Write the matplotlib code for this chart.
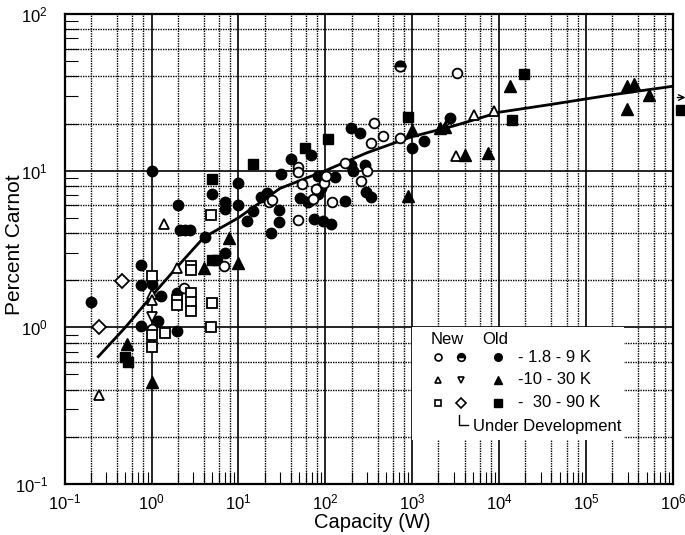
import numpy as np
import matplotlib
matplotlib.use('Agg')
import matplotlib.pyplot as plt
from matplotlib.ticker import LogLocator, NullFormatter
from matplotlib.patches import Rectangle

plt.rcParams['font.family'] = ['Liberation Sans', 'DejaVu Sans']
plt.rcParams['mathtext.default'] = 'regular'

# trend curve through the survey data
trend_x = [0.244, 0.5, 1.0, 2.0, 4.0, 10, 30, 100, 300, 1000, 3000, 10000, 40000, 200000, 1e6]
trend_y = [0.65, 1.0, 1.58, 2.45, 3.75, 5.0, 7.7, 10.0, 13.0, 16.5, 19.3, 23.6, 26.5, 30.5, 34.6]

# old machines, 1.8 - 9 K
old_lo_x = [0.2, 0.75, 0.75, 0.75, 1.0, 1.0, 1.2, 1.3, 1.95, 1.95, 2.0, 2.1, 2.4, 2.75, 4.1,
            5.0, 7.0, 7.0, 7.0, 10, 10, 12.4, 14.8, 18, 21.5, 23.5, 29, 29, 31, 40, 51, 63,
            69, 75, 82, 88, 82, 95, 117, 128, 170, 199, 199, 208, 250, 283, 296, 338, 1000,
            1380, 2690]
old_lo_y = [1.45, 2.5, 1.85, 1.02, 1.9, 10.0, 1.1, 1.58, 1.65, 0.95, 6.0, 4.2, 4.2, 4.2, 3.8,
            7.1, 6.3, 5.7, 3.0, 8.3, 6.0, 4.8, 5.5, 6.8, 7.2, 4.0, 5.6, 4.7, 9.5, 11.8, 6.7, 6.3,
            12.5, 4.95, 7.1, 7.7, 9.2, 4.75, 4.6, 9.1, 6.4, 18.6, 10.8, 9.9, 17.3, 10.9, 7.3, 6.8,
            14.0, 15.4, 21.6]

# old machines, 10 - 30 K
old_mid_x = [0.52, 1.0, 4.0, 7.8, 10, 891, 1000, 2100, 2400, 4000, 7400, 13400,
             296000, 353000, 533000, 296000]
old_mid_y = [0.78, 0.45, 2.38, 3.7, 2.57, 6.9, 18.3, 18.6, 19.0, 12.6, 13.0, 34.9,
             34.6, 35.5, 30.6, 24.8]

# old machines, 30 - 90 K
old_hi_x = [0.5, 0.53, 5.0, 5.0, 5.6, 14.8, 58, 107, 891, 14100, 19200]
old_hi_y = [0.65, 0.6, 8.9, 2.7, 2.7, 11.1, 14.0, 16.0, 22.1, 21.1, 41.2]
# one large machine beyond the axis range
off_x = [1.25e6]
off_y = [24.5]

# new machines
new_lo_x = [1.0, 2.35, 6.8, 22.3, 24.2, 49, 49, 49, 54, 72, 79, 97, 102, 119, 167, 260,
            304, 338, 359, 460, 715, 3290]
new_lo_y = [0.97, 1.78, 2.48, 6.3, 6.5, 10.6, 9.8, 4.84, 8.2, 6.55, 7.6, 8.4, 9.25, 6.3,
            11.2, 8.6, 10.0, 15.1, 20.2, 16.7, 16.2, 41.9]
new_mid_x = [0.25, 1.0, 1.0, 1.0, 1.38, 1.94, 3200, 5200, 8830]
new_mid_y = [0.37, 1.64, 1.5, 0.82, 4.6, 2.38, 12.4, 22.5, 24.2]
new_hi_x = [1.0, 1.0, 1.0, 1.42, 1.94, 1.94, 2.83, 2.83, 2.83, 2.83, 2.83, 4.8, 4.9, 4.8]
new_hi_y = [2.14, 0.9, 0.75, 0.92, 1.49, 1.38, 2.48, 2.31, 1.66, 1.45, 1.28, 5.2, 1.44, 1.0]

# new machines under development
dev_lo_x, dev_lo_y = [715], [46.5]
dev_mid_x, dev_mid_y = [1.0], [1.16]
dev_hi_x, dev_hi_y = [0.46, 0.25], [1.97, 1.0]

legend_rows = ['- 1.8 - 9 K', '-10 - 30 K', '-  30 - 90 K']

fig = plt.figure(figsize=(6.85, 5.35), dpi=100)
ax = fig.add_axes([64.6 / 685, 1 - 484 / 535, 608.4 / 685, 470 / 535])
ax.set_xscale('log')
ax.set_yscale('log')
ax.set_xlim(0.1, 1e6)
ax.set_ylim(0.1, 100)

# grid: solid decades, dotted at 2,4,6,8
ax.grid(which='major', color='k', lw=1.2, ls='-', zorder=0)
for dec in range(-1, 6):
    for m in (2, 4, 6, 8):
        ax.axvline(m * 10.0 ** dec, color='k', lw=1.0, ls=(0, (1, 0.8)), zorder=0)
for dec in range(-1, 2):
    for m in (2, 4, 6, 8):
        ax.axhline(m * 10.0 ** dec, color='k', lw=1.0, ls=(0, (1, 0.8)), zorder=0)

ax.xaxis.set_minor_locator(LogLocator(base=10, subs=np.arange(2, 10), numticks=20))
ax.yaxis.set_minor_locator(LogLocator(base=10, subs=np.arange(2, 10), numticks=20))
ax.xaxis.set_minor_formatter(NullFormatter())
ax.yaxis.set_minor_formatter(NullFormatter())
ax.tick_params(which='major', direction='in', length=0, labelsize=12)
ax.tick_params(axis='x', which='major', pad=6)
ax.tick_params(axis='y', which='major', pad=12)
ax.tick_params(which='minor', direction='in', length=9, width=0.8)
for s in ax.spines.values():
    s.set_linewidth(1.6)

ax.plot(trend_x, trend_y, color='k', lw=2, zorder=3)

kw_open = dict(ls='none', mfc='white', mec='k', mew=1.3, zorder=4)
kw_fill = dict(ls='none', color='k', zorder=4)
ax.plot(old_lo_x, old_lo_y, 'o', ms=7.5, **kw_fill)
ax.plot(old_mid_x, old_mid_y, '^', ms=8, **kw_fill)
ax.plot(old_hi_x, old_hi_y, 's', ms=7, **kw_fill)
ax.plot(off_x, off_y, 's', ms=7, clip_on=False, **kw_fill)
ax.annotate('', xy=(1.5e6, 29.3), xytext=(1.04e6, 29.3),
            arrowprops=dict(arrowstyle='->', lw=1, color='k'), annotation_clip=False)
ax.plot(new_lo_x, new_lo_y, 'o', ms=7, **kw_open)
ax.plot(new_mid_x, new_mid_y, '^', ms=7.5, **kw_open)
ax.plot(new_hi_x, new_hi_y, 's', ms=6.5, **kw_open)
ax.plot(dev_lo_x, dev_lo_y, 'o', ms=7.5, fillstyle='top', mfc='k', mfcalt='white',
        mec='k', mew=1.3, ls='none', zorder=4)
ax.plot(dev_mid_x, dev_mid_y, 'v', ms=7.5, **kw_open)
ax.plot(dev_hi_x, dev_hi_y, 'D', ms=7, **kw_open)

# key box
ax.add_patch(Rectangle((1e3, 0.19), 2.7e5 - 1e3, 1.0 - 0.19, facecolor='white',
                       edgecolor='none', zorder=5))
T = ax.transAxes
ax.text(0.629, 0.308, 'New', transform=T, fontsize=12, ha='center', va='center', zorder=6)
ax.text(0.708, 0.308, 'Old', transform=T, fontsize=12, ha='center', va='center', zorder=6)
row_y = [0.2696, 0.2213, 0.173]
keys = [('o', 'o', 'o'), ('^', 'v', '^'), ('s', 'D', 's')]
for i, (yy, label) in enumerate(zip(row_y, legend_rows)):
    m_new, m_dev, m_old = keys[i]
    ax.plot([0.613], [yy], m_new, ms=5, mfc='white', mec='k', mew=1.2, transform=T, zorder=6)
    if i == 0:
        ax.plot([0.6516], [yy], 'o', ms=5.5, fillstyle='top', mfc='k', mfcalt='white',
                mec='k', mew=1.2, transform=T, zorder=6)
    else:
        ax.plot([0.6516], [yy], m_dev, ms=5, mfc='white', mec='k', mew=1.2,
                transform=T, zorder=6)
    ax.plot([0.7129], [yy], m_old, ms=5.5, color='k', transform=T, zorder=6)
    ax.text(0.7457, yy, label, transform=T, fontsize=12, ha='left', va='center', zorder=6)
ax.plot([0.649, 0.649, 0.6635], [0.1468, 0.1255, 0.1255], color='k', lw=1,
        transform=T, zorder=6)
ax.text(0.671, 0.1219, 'Under Development', transform=T, fontsize=12, ha='left',
        va='center', zorder=6)

ax.set_xlabel('Capacity (W)', fontsize=14.5)
ax.set_ylabel('Percent Carnot', fontsize=15)
ax.xaxis.set_label_coords(0.505, -0.062)
ax.yaxis.set_label_coords(-0.066, 0.51)

fig.savefig('out.png', dpi=100)
